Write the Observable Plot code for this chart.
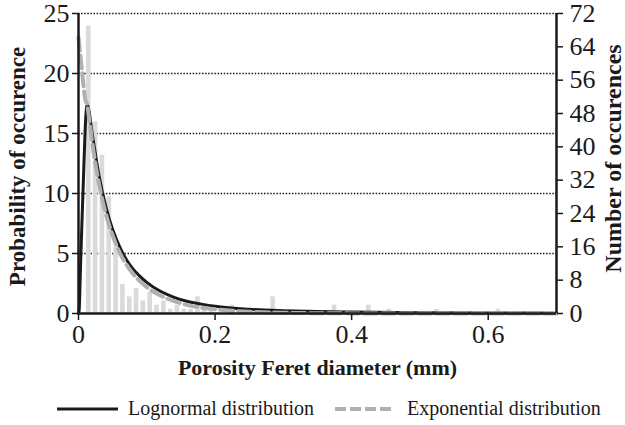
<!DOCTYPE html>
<html>
<head>
<meta charset="utf-8">
<script src="https://cdn.jsdelivr.net/npm/d3@7"></script>
<script src="https://cdn.jsdelivr.net/npm/@observablehq/plot@0.6"></script>
<style>
  html, body { margin: 0; padding: 0; background: #fff; }
  #wrap { width: 625px; position: relative; font-family: "Liberation Serif", "DejaVu Serif", serif; color: #1a1a1a; }
  #chart svg, #chart svg text, #chart svg g { font-family: "Liberation Serif", "DejaVu Serif", serif !important; }
  #legend { position: relative; height: 40px; }
  #legend svg { position: absolute; left: 0; top: 0; }
  #legend span { position: absolute; font-size: 20px; white-space: nowrap; line-height: 20px; }
</style>
</head>
<body>
<div id="wrap">
  <div id="chart"></div>
  <div id="legend">
    <svg width="625" height="40">
      <line x1="57" x2="118" y1="24" y2="24" stroke="#1a1a1a" stroke-width="3"></line>
      <line x1="335" x2="394" y1="24" y2="24" stroke="#b0b0b0" stroke-width="4" stroke-dasharray="11,4"></line>
    </svg>
    <span style="left:128px; top:13px;">Lognormal distribution</span>
    <span style="left:407px; top:13px;">Exponential distribution</span>
  </div>
</div>
<script>
// Histogram: bin centres (mm) and number of occurrences (right axis)
const binMid = [0.015, 0.025, 0.035, 0.045, 0.055, 0.065, 0.075, 0.085, 0.095, 0.105,
                0.115, 0.125, 0.135, 0.145, 0.155, 0.165, 0.175, 0.185, 0.195, 0.225,
                0.285, 0.375, 0.425, 0.455, 0.525, 0.615];
const counts = [69, 46, 38, 28, 16, 7, 4, 6, 3, 5,
                2, 3, 1, 2, 1, 1, 4, 1, 1, 2,
                4, 2, 2, 1, 1, 1];

// Lognormal fit (left axis: probability of occurence)
const lognX = [0, 0.001, 0.003, 0.005, 0.008, 0.0105, 0.0127, 0.015, 0.02, 0.025, 0.03, 0.04, 0.05,
               0.06, 0.07, 0.08, 0.09, 0.1, 0.12, 0.14, 0.16, 0.18, 0.2, 0.25, 0.3, 0.35, 0.4,
               0.5, 0.6, 0.7];
const lognY = [0, 0.3, 4, 7.5, 12.5, 16.2, 17.4, 17.0, 15.0, 13.2, 11.5, 8.9, 7.0,
               5.6, 4.5, 3.7, 3.1, 2.6, 1.85, 1.35, 1.0, 0.78, 0.6, 0.35, 0.23, 0.16, 0.12,
               0.07, 0.045, 0.03];

// Exponential fit
const expX = [0, 0.005, 0.01, 0.0127, 0.015, 0.02, 0.025, 0.03, 0.04, 0.05, 0.06, 0.07, 0.08,
              0.1, 0.12, 0.15, 0.2, 0.25, 0.3, 0.4, 0.5, 0.7];
const expY = [23, 20.3, 17.8, 17.4, 16.5, 14.3, 12.4, 10.8, 8.3, 6.5, 5.1, 4.1, 3.3,
              2.2, 1.5, 0.85, 0.35, 0.15, 0.06, 0.01, 0, 0];

// Axis ticks
const xTicks = [0, 0.2, 0.4, 0.6];
const leftTicks = [0, 5, 10, 15, 20, 25];
const rightTicks = [0, 8, 16, 24, 32, 40, 48, 56, 64, 72];
const gridValues = [5, 10, 15, 20, 25];

const leftMax = 25, rightMax = 72;
const toLeft = c => c * leftMax / rightMax;

const bars = binMid.map((m, i) => ({mid: m, count: counts[i]}));
const logn = lognX.map((x, i) => ({x, y: lognY[i]}));
const expo = expX.map((x, i) => ({x, y: expY[i]}));

const ink = "#1a1a1a";
const serif = "Liberation Serif";
const chart = Plot.plot({
  width: 625,
  height: 385,
  marginLeft: 78,
  marginRight: 69,
  marginTop: 13,
  marginBottom: 72,
  x: {domain: [0, 0.7]},
  y: {domain: [0, leftMax]},
  style: {fontFamily: serif, fontSize: "26px", color: ink, background: "#fff"},
  marks: [
    Plot.ruleY(gridValues, {stroke: ink, strokeWidth: 1.4, strokeDasharray: "1.5,1.6"}),
    Plot.rectY(bars, {x1: d => d.mid - 0.0034, x2: d => d.mid + 0.0034, y: d => toLeft(d.count), fill: "#dadada"}),
    Plot.line(logn, {x: "x", y: "y", stroke: ink, strokeWidth: 3, curve: "monotone-x"}),
    Plot.line(expo, {x: "x", y: "y", stroke: "#b0b0b0", strokeWidth: 4, strokeDasharray: "13,5", curve: "monotone-x"}),
    Plot.ruleX([0, 0.7], {stroke: ink, strokeWidth: 2.5}),
    Plot.ruleY([0], {stroke: ink, strokeWidth: 2.5}),
    Plot.axisY(leftTicks, {anchor: "left", tickSize: 6, tickPadding: 3, strokeWidth: 1.5, label: null, fontFamily: serif, fontSize: 26,
      tickFormat: d => String(d)}),
    Plot.axisY(rightTicks.map(toLeft), {anchor: "right", tickSize: 6, tickPadding: 7, strokeWidth: 1.5, label: null, fontFamily: serif, fontSize: 26,
      tickFormat: d => String(Math.round(d * rightMax / leftMax))}),
    Plot.axisX(xTicks, {anchor: "bottom", tickSize: 7, tickPadding: 4, strokeWidth: 1.5, label: null, fontFamily: serif, fontSize: 26,
      tickFormat: d => d === 0 ? "0" : String(d)}),
    Plot.text(["Porosity Feret diameter (mm)"], {frameAnchor: "bottom", dy: 54, fontWeight: "bold", fontSize: 22, fontFamily: serif, fill: ink, lineAnchor: "middle", textAnchor: "middle"}),
    Plot.text(["Probability of occurence"], {frameAnchor: "left", dx: -61, dy: 3, rotate: -90, fontWeight: "bold", fontSize: 23, fontFamily: serif, fill: ink, textAnchor: "middle", lineAnchor: "middle"}),
    Plot.text(["Number of occurences"], {frameAnchor: "right", dx: 57, dy: -5, rotate: -90, fontWeight: "bold", fontSize: 24, fontFamily: serif, fill: ink, textAnchor: "middle", lineAnchor: "middle"})
  ]
});
document.getElementById("chart").appendChild(chart);
</script>
</body>
</html>
